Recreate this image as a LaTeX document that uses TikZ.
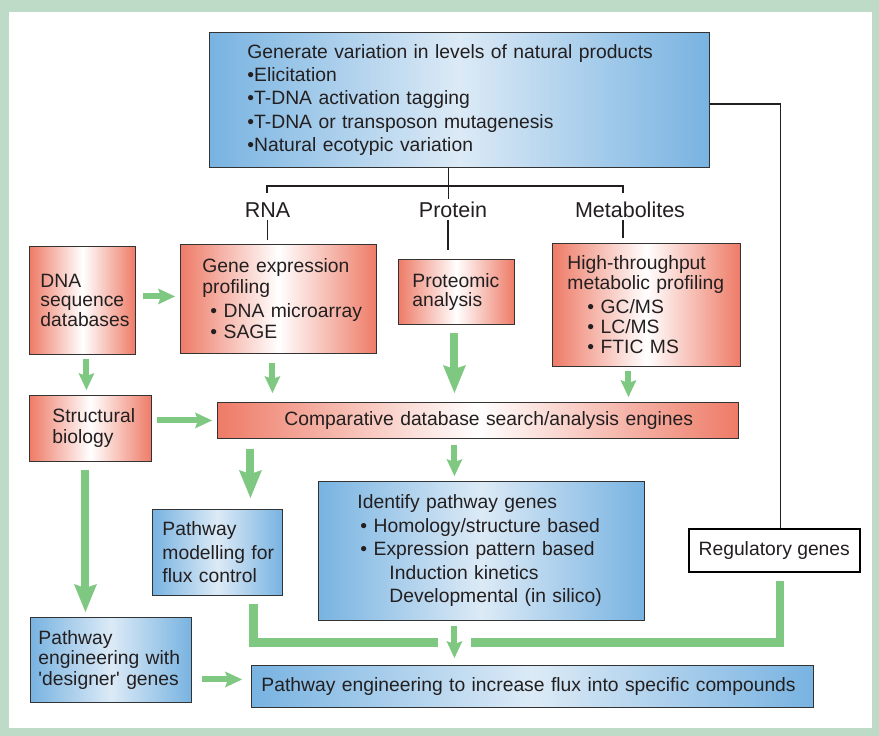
\documentclass[tikz,border=0pt]{standalone}
\usepackage{fontspec}
\setmainfont{Liberation Sans}
\usetikzlibrary{arrows.meta,calc}
\definecolor{bggreen}{HTML}{BEDBC8}
\definecolor{agreen}{HTML}{7FC881}
\definecolor{salm}{HTML}{EE7B67}
\definecolor{blueedge}{HTML}{78B3E1}
\definecolor{bluemid}{HTML}{DCEAF6}
\definecolor{bordc}{HTML}{333333}
\definecolor{txt}{HTML}{231F20}
\newcommand\fsz[1]{\fontsize{19.3}{#1}\selectfont}
\tikzset{
  basebox/.style={draw=bordc, line width=0.9pt, anchor=north west, align=left,
    inner ysep=0pt, text=txt},
  redbox/.style={basebox, left color=salm, right color=salm, middle color=white},
  bluebox/.style={basebox, left color=blueedge, right color=blueedge, middle color=bluemid},
  plainbox/.style={draw=black, line width=1.5pt, fill=white, anchor=north west,
    inner sep=0pt, text=txt, font=\fsz{23}},
  lbl/.style={font=\fontsize{21.5}{24}\selectfont, text=txt, inner sep=2pt},
  conn/.style={draw=txt, line width=1.6pt},
  sarr/.style={draw=agreen, line width=6pt,
    -{Stealth[length=17pt,width=16pt,inset=3pt,line width=0pt]}},
  barr/.style={draw=agreen, line width=8pt,
    -{Stealth[length=28pt,width=23pt,inset=4pt,line width=0pt]}},
  gline/.style={draw=agreen, line width=8.5pt},
}
\begin{document}
\begin{tikzpicture}[x=1pt,y=-1pt]
\useasboundingbox (0,0) rectangle (879,736);
\fill[bggreen] (0,0) rectangle (879,736);
\fill[white] (9,12) rectangle (872,728);

% boxes
\node[bluebox, font=\fsz{23.3}, text width=424pt, inner xsep=38pt, minimum height=135pt] (top) at (209,32)
 {Generate variation in levels of natural products\\
  •Elicitation\\
  •T-DNA activation tagging\\
  •T-DNA or transposon mutagenesis\\
  •Natural ecotypic variation};

\node[plainbox, minimum width=171pt, minimum height=43pt] (reg) at (688,528) {Regulatory genes};

\node[lbl] (rna) at (267.5,210) {RNA};
\node[lbl] (protl) at (453,210) {Protein};
\node[lbl] (metl) at (630,210) {Metabolites};

\node[redbox, font=\fsz{19.8}, text width=84pt, inner xsep=11pt, minimum height=108pt] (dna) at (29,246)
 {DNA\\sequence\\\mbox{databases}};

\node[redbox, font=\fsz{21}, text width=152pt, inner xsep=22pt, minimum height=109pt] (gene) at (180,244)
 {\mbox{Gene expression}\\profiling\\[3pt]
  \mbox{\hspace*{8pt}• DNA microarray}\\
  \mbox{\hspace*{8pt}• SAGE}};

\node[redbox, font=\fsz{19.5}, text width=88pt, inner xsep=14pt, minimum height=65pt] (prot) at (398,259)
 {\mbox{Proteomic}\\analysis};

\node[redbox, font=\fsz{20}, text width=158pt, inner xsep=15pt, minimum height=123pt] (ht) at (552,243)
 {\mbox{High-throughput}\\\mbox{metabolic profiling}\\[4pt]
  \mbox{\hspace*{20pt}• GC/MS}\\
  \mbox{\hspace*{20pt}• LC/MS}\\
  \mbox{\hspace*{20pt}• FTIC MS}};

\node[redbox, font=\fsz{21}, text width=76pt, inner xsep=23pt, minimum height=66pt] (struct) at (29,395)
 {\mbox{Structural}\\biology};

\node[redbox, font=\fsz{21}, text width=387pt, inner xsep=67pt, minimum height=36pt] (comp) at (217,402)
 {\mbox{Comparative database search/analysis engines}};

\node[bluebox, font=\fsz{23.5}, text width=248pt, inner xsep=39pt, minimum height=139pt] (ident) at (318,481)
 {Identify pathway genes\\
  \mbox{\hspace*{3pt}• Homology/structure based}\\
  \mbox{\hspace*{3pt}• Expression pattern based}\\
  \mbox{\hspace*{32pt}Induction kinetics}\\
  \mbox{\hspace*{32pt}Developmental (in silico)}};

\node[bluebox, font=\fsz{23.5}, text width=110pt, inner xsep=10pt, minimum height=86pt] (model) at (152,509)
 {Pathway\\\mbox{modelling for}\\\mbox{flux control}};

\node[bluebox, font=\fsz{20.5}, text width=145pt, inner xsep=8pt, minimum height=85pt] (design) at (30,617)
 {Pathway\\\mbox{engineering with}\\\mbox{\textquotesingle designer\textquotesingle{} genes}};

\node[bluebox, font=\fsz{23}, text width=542pt, inner xsep=10pt, minimum height=42pt] (bottom) at (251,665)
 {\mbox{Pathway engineering to increase flux into specific compounds}};

% black connectors
\coordinate (bL) at (267,193);
\coordinate (bR) at (623,193);
\coordinate (bH) at (448,186);
\draw[conn] ([xshift=-11pt]top.south) -- ++(0,31);
\draw[conn] (bL) -- (bL |- bH) -- (bR |- bH) -- (bR);
\draw[conn, shorten >=4pt] (rna.south) -- (rna.south |- gene.north);
\draw[conn, shorten >=9pt] ([xshift=-5pt]protl.south) -- ([xshift=-5pt]protl.south |- prot.north);
\draw[conn, shorten >=5pt] ([xshift=-7pt]metl.south) -- ([xshift=-7pt]metl.south |- ht.north);
\draw[conn, line width=1.4pt] ([yshift=-72pt]top.north east) -| ([xshift=6.5pt]reg.north);

% green arrows
\draw[sarr] ([xshift=7pt,yshift=4pt]dna.east) -- ([xshift=-5pt,yshift=4pt]dna.east -| gene.west);
\draw[sarr] ([xshift=4pt,yshift=-4pt]dna.south) -- ([xshift=4pt,yshift=5pt]dna.south |- struct.north);
\draw[sarr] ([xshift=5pt]struct.east |- comp.west) -- ([xshift=-5pt]comp.west);
\draw[sarr] ([xshift=-6pt,yshift=-9pt]gene.south) -- ([xshift=-6pt,yshift=9pt]gene.south |- comp.north);
\draw[barr] ([xshift=-2pt,yshift=-8pt]prot.south) -- ([xshift=-2pt,yshift=9pt]prot.south |- comp.north);
\draw[sarr] ([xshift=-18pt,yshift=-4pt]ht.south) -- ([xshift=-18pt,yshift=5pt]ht.south |- comp.north);
\draw[barr] ([xshift=33pt,yshift=-10pt]model.north |- comp.south) -- ([xshift=33pt,yshift=11pt]model.north);
\draw[sarr] ([xshift=-27pt,yshift=-6pt]ident.north |- comp.south) -- ([xshift=-27pt,yshift=5pt]ident.north);
\draw[barr] ([xshift=-5pt,yshift=-8pt]struct.south) -- ([xshift=-5pt,yshift=5pt]struct.south |- design.north);
\draw[sarr] ([xshift=10pt,yshift=7pt]design.east |- bottom.west) -- ([xshift=-9pt,yshift=7pt]bottom.west);
\draw[sarr] ([xshift=-27pt,yshift=-5pt]ident.south) -- ([xshift=-27pt,yshift=7pt]ident.south |- bottom.north);

% green collector lines
\coordinate (gl) at (438,642.5);
\coordinate (gr) at (471,642.5);
\draw[gline] ([xshift=36pt,yshift=-8pt]model.south) |- (gl);
\draw[gline] (gr) -| ([xshift=5.5pt,yshift=-8pt]reg.south);
\end{tikzpicture}
\end{document}
